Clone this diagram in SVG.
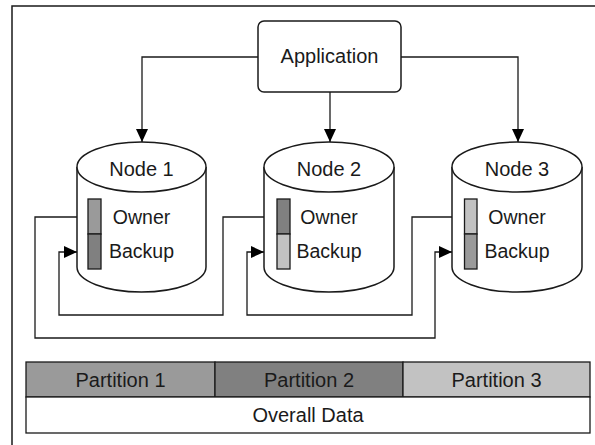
<svg xmlns="http://www.w3.org/2000/svg" width="595" height="445" viewBox="0 0 595 445">
  <defs>
    <marker id="arrow" markerUnits="userSpaceOnUse" markerWidth="13" markerHeight="12" refX="13" refY="6" orient="auto">
      <path d="M0,0 L13,6 L0,12 Z" fill="#000"/>
    </marker>
    <style>
      .frame { fill: none; stroke: #1a1a1a; stroke-width: 1.5; }
      .shape { fill: #fff; stroke: #1a1a1a; stroke-width: 1.5; }
      .link { fill: none; stroke: #1a1a1a; stroke-width: 1.3; marker-end: url(#arrow); }
      .cell { stroke: #1a1a1a; stroke-width: 1.3; }
      .bar { stroke: #1a1a1a; stroke-width: 1.3; }
      .mid { fill: #9a9a9a; }
      .dark { fill: #808080; }
      .light { fill: #c2c2c2; }
      text { font-family: "Liberation Sans", Arial, sans-serif; fill: #1a1a1a; text-anchor: middle; }
      .lbl { font-size: 20px; }
      .sub { font-size: 19.5px; }
    </style>
  </defs>

  <rect class="frame" x="12" y="6" width="600" height="450"/>

  <g id="application">
    <rect class="shape" x="258" y="21" width="143" height="71" rx="6"/>
    <text class="lbl" x="329.5" y="63">Application</text>
  </g>

  <g id="node1">
    <path class="shape" d="M77,167 V267 A64.5,25 0 0 0 206,267 V167 A64.5,25 0 0 0 77,167 Z"/>
    <path class="shape" d="M77,167 A64.5,25 0 0 0 206,167" fill="none"/>
    <rect class="bar mid" x="88" y="199" width="13" height="35"/>
    <rect class="bar dark" x="88" y="234" width="13" height="35"/>
    <text class="lbl" x="141.5" y="175.5">Node 1</text>
    <text class="sub" x="141.5" y="224">Owner</text>
    <text class="sub" x="141.5" y="258">Backup</text>
  </g>

  <g id="node2">
    <path class="shape" d="M264,167 V267 A65,25 0 0 0 394,267 V167 A65,25 0 0 0 264,167 Z"/>
    <path class="shape" d="M264,167 A65,25 0 0 0 394,167" fill="none"/>
    <rect class="bar dark" x="277" y="199" width="13" height="35"/>
    <rect class="bar light" x="277" y="234" width="13" height="35"/>
    <text class="lbl" x="329" y="175.5">Node 2</text>
    <text class="sub" x="329" y="224">Owner</text>
    <text class="sub" x="329" y="258">Backup</text>
  </g>

  <g id="node3">
    <path class="shape" d="M452,167 V267 A65,25 0 0 0 582,267 V167 A65,25 0 0 0 452,167 Z"/>
    <path class="shape" d="M452,167 A65,25 0 0 0 582,167" fill="none"/>
    <rect class="bar light" x="464.5" y="199" width="12.5" height="35"/>
    <rect class="bar mid" x="464.5" y="234" width="12.5" height="35"/>
    <text class="lbl" x="517" y="175.5">Node 3</text>
    <text class="sub" x="517" y="224">Owner</text>
    <text class="sub" x="517" y="258">Backup</text>
  </g>

  <g id="connectors">
    <path class="link" d="M258,57 H142 V142"/>
    <path class="link" d="M330,92 V142"/>
    <path class="link" d="M401,57 H518 V142"/>
    <path class="link" d="M77,217 H35 V338 H435 V252 H452"/>
    <path class="link" d="M264,217 H223 V315 H59 V252 H77"/>
    <path class="link" d="M452,217 H412 V315 H247 V252 H264"/>
  </g>

  <g id="partitions">
    <rect class="cell mid" x="26" y="362" width="189" height="35"/>
    <rect class="cell dark" x="215" y="362" width="188" height="35"/>
    <rect class="cell light" x="403" y="362" width="187" height="35"/>
    <text class="lbl" x="120.5" y="387">Partition 1</text>
    <text class="lbl" x="309" y="387">Partition 2</text>
    <text class="lbl" x="496.5" y="387">Partition 3</text>
  </g>

  <g id="overall-data">
    <rect class="cell" fill="#fff" x="26" y="397" width="564" height="36"/>
    <text class="lbl" x="308" y="422">Overall Data</text>
  </g>
</svg>
